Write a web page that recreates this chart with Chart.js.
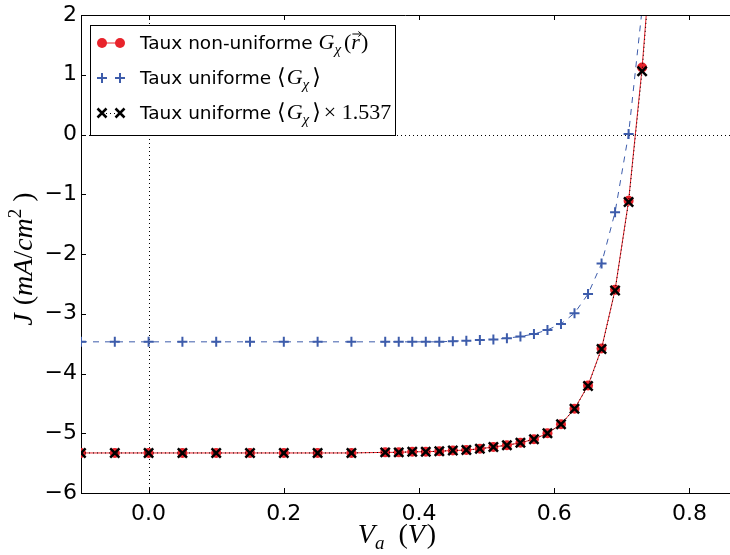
<!DOCTYPE html>
<html><head><meta charset="utf-8">
<script src="https://cdn.jsdelivr.net/npm/chart.js@4.4.1/dist/chart.umd.min.js"></script>
<style>html,body{margin:0;padding:0;background:#fff;overflow:hidden}</style>
</head><body>
<canvas id="c" width="730" height="555"></canvas>
<script>
// ---- data ----
const voltages = [-0.1,-0.05,0,0.05,0.1,0.15,0.2,0.25,0.3,0.35,0.37,0.39,0.41,0.43,0.45,0.47,0.49,0.51,0.53,0.55,0.57,0.59,0.61,0.63,0.65,0.67,0.69,0.71,0.73,0.75];
const jNonUniform = [-5.33,-5.33,-5.33,-5.33,-5.33,-5.33,-5.33,-5.33,-5.33,-5.32,-5.32,-5.31,-5.31,-5.30,-5.29,-5.28,-5.26,-5.23,-5.20,-5.16,-5.10,-5.00,-4.85,-4.59,-4.20,-3.58,-2.60,-1.11,1.12,4.0];
const jUniform = [-3.47,-3.47,-3.47,-3.47,-3.47,-3.47,-3.47,-3.47,-3.47,-3.47,-3.47,-3.47,-3.47,-3.47,-3.46,-3.45,-3.44,-3.43,-3.41,-3.38,-3.34,-3.27,-3.17,-2.99,-2.67,-2.16,-1.30,0.01,2.1];
const jUniformScaled = [-5.33,-5.33,-5.33,-5.33,-5.33,-5.33,-5.33,-5.33,-5.33,-5.32,-5.32,-5.31,-5.31,-5.30,-5.29,-5.28,-5.26,-5.23,-5.20,-5.16,-5.10,-5.00,-4.85,-4.59,-4.21,-3.59,-2.61,-1.13,1.06,3.9];
const xTicks = [0,0.2,0.4,0.6,0.8];
const yTicks = [-6,-5,-4,-3,-2,-1,0,1,2];
const seriesNames = ['Taux non-uniforme','Taux uniforme','Taux uniforme'];

const RED = '#e8232b';
const BLUE = '#3d5cab';
const toXY = ys => ys.map((y,i)=>({x:voltages[i], y}));
const minus = s => String(s).replace('-', '\u2212');

function drawRich(ctx, parts, x, y, align){
  let w = 0;
  parts.forEach(p=>{ctx.font=p.f; p.w = ctx.measureText(p.t).width + (p.sp||0); w += p.w;});
  let cx = align==='center' ? x - w/2 : x;
  const pos = [];
  parts.forEach(p=>{ctx.font=p.f; ctx.fillText(p.t, cx + (p.ox||0), y + (p.dy||0)); pos.push(cx); cx += p.w;});
  return pos;
}

const SANS = '"DejaVu Sans"';
const SERIF = '"Liberation Serif","DejaVu Serif"';

const deco = {
  id:'deco',
  beforeDatasetsDraw(chart){
    const {ctx, chartArea:a, scales:{x, y}} = chart;
    ctx.save();
    ctx.strokeStyle = '#000'; ctx.lineWidth = 1; ctx.setLineDash([1,3]);
    const x0 = Math.round(x.getPixelForValue(0)) + 0.5;
    const y0 = Math.round(y.getPixelForValue(0)) + 0.5;
    ctx.beginPath(); ctx.moveTo(x0, a.top); ctx.lineTo(x0, a.bottom); ctx.stroke();
    ctx.beginPath(); ctx.moveTo(a.left, y0); ctx.lineTo(a.right, y0); ctx.stroke();
    ctx.restore();
  },
  afterDraw(chart){
    const {ctx, chartArea:a, scales:{x, y}} = chart;
    ctx.save();
    ctx.strokeStyle = '#000'; ctx.lineWidth = 1; ctx.setLineDash([]);
    // top spine (right spine falls outside the picture)
    const ty = Math.round(a.top)+0.5;
    ctx.beginPath(); ctx.moveTo(a.left, ty); ctx.lineTo(a.right, ty); ctx.stroke();
    const tl = 5;
    ctx.beginPath();
    xTicks.forEach(v=>{ const px = Math.round(x.getPixelForValue(v))+0.5;
      ctx.moveTo(px, a.bottom); ctx.lineTo(px, a.bottom-tl);
      ctx.moveTo(px, a.top); ctx.lineTo(px, a.top+tl); });
    yTicks.forEach(v=>{ const py = Math.round(y.getPixelForValue(v))+0.5;
      ctx.moveTo(a.left, py); ctx.lineTo(a.left+tl, py); });
    ctx.stroke();

    // legend
    const L = {x:90, y:25, w:305, h:110};
    ctx.fillStyle = '#fff';
    ctx.fillRect(L.x, L.y, L.w, L.h);
    ctx.strokeRect(L.x+0.5, L.y+0.5, L.w, L.h);
    const rows = [43, 78, 113];
    const mx1 = 102, mx2 = 120;
    ctx.strokeStyle = RED; ctx.fillStyle = RED; ctx.lineWidth = 1;
    ctx.beginPath(); ctx.moveTo(mx1, rows[0]); ctx.lineTo(mx2, rows[0]); ctx.stroke();
    [mx1,mx2].forEach(m=>{ctx.beginPath(); ctx.arc(m, rows[0], 5, 0, Math.PI*2); ctx.fill();});
    ctx.strokeStyle = BLUE; ctx.lineWidth = 2;
    [mx1,mx2].forEach(m=>{ctx.beginPath(); ctx.moveTo(m-5, rows[1]); ctx.lineTo(m+5, rows[1]); ctx.moveTo(m, rows[1]-5); ctx.lineTo(m, rows[1]+5); ctx.stroke();});
    ctx.strokeStyle = '#000'; ctx.lineWidth = 2.5;
    [mx1,mx2].forEach(m=>{ctx.beginPath(); ctx.moveTo(m-4.5, rows[2]-4.5); ctx.lineTo(m+4.5, rows[2]+4.5); ctx.moveTo(m+4.5, rows[2]-4.5); ctx.lineTo(m-4.5, rows[2]+4.5); ctx.stroke();});
    ctx.lineWidth = 1; ctx.setLineDash([1,3]);
    ctx.beginPath(); ctx.moveTo(mx1, rows[2]+0.5); ctx.lineTo(mx2, rows[2]+0.5); ctx.stroke();
    ctx.setLineDash([]);

    ctx.fillStyle = '#000'; ctx.textBaseline = 'alphabetic'; ctx.textAlign = 'left';
    const tx = 140;
    const txtF = '18.5px ' + SANS;
    const mI = 'italic 22px ' + SERIF, mR = '22px ' + SERIF, mS = 'italic 15px ' + SERIF;
    const bl = 6;
    const p1 = drawRich(ctx, [
      {t: seriesNames[0] + ' ', f: txtF},
      {t:'G', f:mI}, {t:'\u03C7', f:mS, dy:5, sp:3},
      {t:'(', f:mR}, {t:'r', f:mI, sp:1}, {t:')', f:mR}
    ], tx, rows[0]+bl, 'left');
    const rx = p1[4] + 1, ry = rows[0]+bl-15;
    ctx.lineWidth = 1; ctx.strokeStyle='#000';
    ctx.beginPath(); ctx.moveTo(rx, ry); ctx.lineTo(rx+9, ry); ctx.moveTo(rx+6, ry-2.5); ctx.lineTo(rx+9, ry); ctx.lineTo(rx+6, ry+2.5); ctx.stroke();
    drawRich(ctx, [
      {t: seriesNames[1] + ' ', f: txtF},
      {t:'\u27E8', f:mR, sp:1}, {t:'G', f:mI}, {t:'\u03C7', f:mS, dy:5, sp:3}, {t:'\u27E9', f:mR}
    ], tx, rows[1]+bl, 'left');
    drawRich(ctx, [
      {t: seriesNames[2] + ' ', f: txtF},
      {t:'\u27E8', f:mR, sp:1}, {t:'G', f:mI}, {t:'\u03C7', f:mS, dy:5, sp:3}, {t:'\u27E9', f:mR, sp:3},
      {t:'\u00D7 1.537', f:mR}
    ], tx, rows[2]+bl, 'left');

    // axis titles
    const tI = 'italic 28px ' + SERIF, tR = '28px ' + SERIF, tSup = '19px ' + SERIF, tSub = 'italic 19px ' + SERIF;
    drawRich(ctx, [
      {t:'V', f:tI}, {t:'a', f:tSub, dy:6, sp:14}, {t:'(', f:tR}, {t:'V', f:tI, sp:2}, {t:')', f:tR}
    ], 397, 543, 'center');
    ctx.save();
    ctx.translate(32, 259); ctx.rotate(-Math.PI/2);
    drawRich(ctx, [
      {t:'J', f:tI, sp:8}, {t:'(', f:tR}, {t:'mA', f:tI}, {t:'/', f:tR}, {t:'cm', f:tI},
      {t:'2', f:tSup, dy:-11, sp:7}, {t:')', f:tR}
    ], 0, 0, 'center');
    ctx.restore();
    ctx.restore();
  }
};

const tickFont = {family:'DejaVu Sans', size:22};
new Chart(document.getElementById('c'), {
  type:'line',
  data:{datasets:[
    {label: seriesNames[2]+' ×1.537', data: toXY(jUniformScaled), borderColor:'#000', borderWidth:1, borderDash:[1,3],
     pointStyle:'crossRot', pointRadius:6.5, pointBorderWidth:2.5, pointBorderColor:'#000', pointBackgroundColor:'#000', clip:0, tension:0, fill:false},
    {label: seriesNames[1], data: toXY(jUniform), borderColor:BLUE, borderWidth:1, borderDash:[6,6],
     pointStyle:'cross', pointRadius:5, pointBorderWidth:2, pointBorderColor:BLUE, pointBackgroundColor:BLUE, clip:0, tension:0, fill:false},
    {label: seriesNames[0], data: toXY(jNonUniform), borderColor:RED, borderWidth:1,
     pointStyle:'circle', pointRadius:5, pointBorderWidth:0, pointBorderColor:RED, pointBackgroundColor:RED, clip:0, tension:0, fill:false}
  ]},
  options:{
    responsive:false, animation:false, devicePixelRatio:1,
    layout:{autoPadding:false, padding:{left:0, right:0, top:15, bottom:0}},
    plugins:{legend:{display:false}, tooltip:{enabled:false}},
    events:[],
    scales:{
      x:{type:'linear', min:-0.1, max:0.86,
         afterFit(s){ s.height = 62; s.paddingLeft = 0; s.paddingRight = 0; },
         afterBuildTicks(s){ s.ticks = xTicks.map(v=>({value:v})); },
         ticks:{font:tickFont, color:'#000', padding:8, maxRotation:0, autoSkip:false, callback:v=>minus(Number(v).toFixed(1))},
         grid:{drawOnChartArea:false, drawTicks:false},
         border:{display:true, color:'#000', width:1}},
      y:{type:'linear', min:-6, max:2,
         afterFit(s){ s.width = 81; s.paddingTop = 0; s.paddingBottom = 0; },
         afterBuildTicks(s){ s.ticks = yTicks.map(v=>({value:v})); },
         ticks:{font:tickFont, color:'#000', padding:4, autoSkip:false, callback:v=>minus(v)},
         grid:{drawOnChartArea:false, drawTicks:false},
         border:{display:true, color:'#000', width:1}}
    }
  },
  plugins:[deco]
});
</script>
</body></html>
